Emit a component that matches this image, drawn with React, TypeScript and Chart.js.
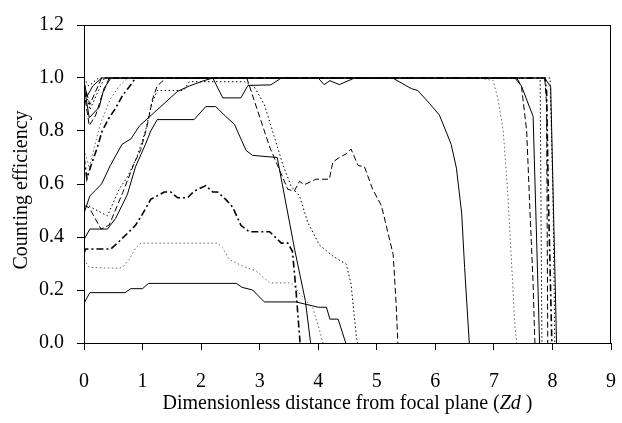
import React, { useEffect, useRef } from "react";
import { Chart, registerables } from "chart.js";
Chart.register(...registerables);

// ---- data (x = Zd, y = counting efficiency) ----
const aX = [0, 0.1, 0.7, 0.8, 1.0, 1.1, 2.6, 2.7, 2.88, 3.08, 3.62, 4.0, 4.14, 4.2, 4.34, 4.47];
const aY = [0.15, 0.19, 0.19, 0.205, 0.205, 0.225, 0.225, 0.21, 0.2, 0.155, 0.155, 0.135, 0.135, 0.09, 0.09, 0];

const bX = [0, 0.09, 0.6, 0.68, 0.77, 0.88, 0.97, 2.28, 2.37, 2.48, 2.71, 2.94, 3.17, 3.54, 3.68, 3.91, 4.02, 4.08];
const bY = [0.315, 0.285, 0.282, 0.29, 0.315, 0.358, 0.377, 0.377, 0.358, 0.315, 0.29, 0.272, 0.227, 0.227, 0.187, 0.131, 0.05, 0];

const cX = [0, 0.03, 0.46, 0.6, 0.77, 0.88, 1.0, 1.14, 1.37, 1.48, 1.6, 1.77, 1.88, 2.08, 2.2, 2.28, 2.42, 2.54, 2.68, 2.82, 3.17, 3.37, 3.48, 3.56, 3.62, 3.69];
const cY = [0.34, 0.355, 0.355, 0.383, 0.42, 0.444, 0.487, 0.542, 0.57, 0.57, 0.548, 0.548, 0.573, 0.594, 0.57, 0.57, 0.542, 0.512, 0.444, 0.42, 0.42, 0.377, 0.377, 0.346, 0.2, 0];

const dX = [0, 0.1, 0.4, 0.54, 0.74, 0.88, 1.05, 1.14, 1.25, 1.88, 2.08, 2.25, 2.42, 2.57, 2.68, 2.77, 2.88, 3.3, 3.6, 3.78, 3.87];
const dY = [0.39, 0.43, 0.43, 0.47, 0.56, 0.665, 0.75, 0.8, 0.843, 0.843, 0.892, 0.892, 0.855, 0.825, 0.77, 0.726, 0.708, 0.7, 0.35, 0.16, 0];

const eX = [0, 0.1, 0.3, 0.45, 0.65, 0.8, 0.95, 1.2, 1.4, 1.6, 1.8, 2.05, 2.2, 2.37, 2.68, 2.8, 3.19, 3.37, 4.0, 4.1, 4.2, 4.36, 4.62, 5.27, 5.59, 5.7, 5.9, 6.07, 6.27, 6.36, 6.45, 6.5, 6.58];
const eY = [0.49, 0.555, 0.6, 0.67, 0.75, 0.77, 0.82, 0.87, 0.91, 0.95, 0.97, 0.99, 1.0, 0.925, 0.925, 0.972, 0.974, 1.0, 1.0, 0.975, 0.99, 0.975, 1.0, 1.0, 0.96, 0.953, 0.904, 0.86, 0.75, 0.66, 0.49, 0.285, 0];

const hX = [0, 0.09, 0.29, 0.43, 0.66, 0.86, 0.97, 1.08, 1.17, 1.25, 1.4, 2.78, 3.17, 3.48, 3.59, 3.68, 3.76, 3.96, 4.19, 4.25, 4.36, 4.48, 4.56, 4.68, 4.79, 4.93, 5.08, 5.28, 5.33, 5.36];
const hY = [0.52, 0.51, 0.43, 0.445, 0.567, 0.68, 0.73, 0.82, 0.92, 0.97, 1.0, 1.0, 0.74, 0.58, 0.573, 0.61, 0.597, 0.618, 0.618, 0.683, 0.7, 0.714, 0.732, 0.67, 0.665, 0.58, 0.518, 0.334, 0.15, 0];

const iX = [0, 0.06, 0.31, 0.4, 0.6, 0.75, 0.9, 1.05, 1.15, 1.25, 1.7, 1.8, 2.74, 2.91, 3.08, 3.22, 3.39, 3.54, 3.68, 3.82, 4.02, 4.25, 4.48, 4.56, 4.65, 4.67];
const iY = [0.5, 0.52, 0.49, 0.48, 0.58, 0.63, 0.7, 0.8, 0.9, 0.953, 0.953, 0.986, 0.986, 0.966, 0.9, 0.8, 0.677, 0.59, 0.555, 0.456, 0.37, 0.328, 0.297, 0.223, 0.027, 0];

const fX = [0, 0.09, 0.26, 0.34, 0.46, 7.36, 7.47, 7.67, 7.78];
const fY = [0.97, 0.85, 0.89, 0.96, 1.0, 1.0, 0.97, 0.855, 0];

const gX = [0, 0.09, 0.2, 0.3, 0.43, 7.39, 7.47, 7.56, 7.61, 7.67, 7.7];
const gY = [0.95, 0.82, 0.86, 0.93, 1.0, 1.0, 0.97, 0.8, 0.53, 0.223, 0];

const kX = [0, 0.05, 0.09, 0.23, 0.31, 0.43, 0.54, 0.66, 0.77, 0.88, 7.87, 7.9, 7.93, 7.99];
const kY = [0.7, 0.62, 0.65, 0.74, 0.8, 0.85, 0.886, 0.935, 0.966, 1.0, 1.0, 0.95, 0.555, 0];

const lX = [0, 0.09, 0.2, 0.3, 0.45, 0.6, 0.75, 6.76, 6.99, 7.07, 7.16, 7.24, 7.3, 7.36, 7.39];
const lY = [0.73, 0.66, 0.76, 0.84, 0.92, 0.97, 1.0, 1.0, 0.99, 0.92, 0.8, 0.555, 0.31, 0.06, 0];

const sX = [0, 0.05, 0.15, 0.3, 7.87, 7.97, 8.07];
const sY = [0.99, 0.93, 0.97, 1.0, 1.0, 0.966, 0];

const tX = [0, 0.1, 0.2, 0.35, 7.79, 7.82];
const tY = [0.98, 0.88, 0.93, 1.0, 1.0, 0];

const uX = [0, 0.08, 0.25, 7.96, 8.01, 8.04];
const uY = [1.0, 0.97, 1.0, 1.0, 0.555, 0];

const vX = [0, 0.1, 0.3, 7.87, 7.9, 7.92];
const vY = [0.98, 0.9, 1.0, 1.0, 0.9, 0];

const xTicks = [0, 1, 2, 3, 4, 5, 6, 7, 8, 9];
const yTicks = [0, 0.2, 0.4, 0.6, 0.8, 1.0, 1.2];

const xTitleParts = ["Dimensionless distance from focal plane (", "Zd", " )"];
const yTitle = "Counting efficiency";

type Style = "solid" | "dash" | "dot" | "heavy";
const SOLID: number[] = [];
function pts(xs: number[], ys: number[]) {
  return xs.map((x, i) => ({ x, y: ys[i] }));
}
function ds(xs: number[], ys: number[], style: Style, color = "#000") {
  const dash =
    style === "dash" ? [6, 3] : style === "dot" ? [1.5, 2.5] : style === "heavy" ? [7, 3, 2, 3] : SOLID;
  return {
    data: pts(xs, ys),
    showLine: true,
    borderColor: color,
    borderWidth: style === "heavy" ? 1.6 : 1,
    borderDash: dash,
    pointRadius: 0,
    fill: false,
    tension: 0,
  };
}

const FONT = "'Liberation Serif', 'Times New Roman', serif";

const framePlugin = {
  id: "frame",
  afterDraw(chart: any) {
    const { ctx, chartArea } = chart;
    ctx.save();
    ctx.strokeStyle = "#000";
    ctx.lineWidth = 1;
    ctx.strokeRect(
      Math.round(chartArea.left) + 0.5,
      Math.round(chartArea.top) + 0.5,
      Math.round(chartArea.right - chartArea.left) - 1,
      Math.round(chartArea.bottom - chartArea.top)
    );
    // x-axis title with italic "Zd"
    const normal = `20px ${FONT}`;
    const italic = `italic 20px ${FONT}`;
    const fonts = [normal, italic, normal];
    const widths = xTitleParts.map((t, i) => {
      ctx.font = fonts[i];
      return ctx.measureText(t).width;
    });
    const total = widths.reduce((a, b) => a + b, 0);
    let x = (chartArea.left + chartArea.right) / 2 - total / 2;
    const y = chart.height - 19;
    ctx.fillStyle = "#000";
    ctx.textBaseline = "middle";
    ctx.textAlign = "left";
    xTitleParts.forEach((t, i) => {
      ctx.font = fonts[i];
      ctx.fillText(t, x, y);
      x += widths[i];
    });
    // y-axis title
    ctx.save();
    ctx.translate(22, (chartArea.top + chartArea.bottom) / 2 + 6);
    ctx.rotate(-Math.PI / 2);
    ctx.font = normal;
    ctx.textAlign = "center";
    ctx.textBaseline = "middle";
    ctx.fillText(yTitle, 0, 0);
    ctx.restore();
    ctx.restore();
  },
};

export default function App() {
  const ref = useRef<HTMLCanvasElement | null>(null);
  useEffect(() => {
    if (!ref.current) return;
    const chart = new Chart(ref.current, {
      type: "scatter",
      data: {
        datasets: [
          ds(aX, aY, "solid"),
          ds(bX, bY, "dot", "#666"),
          ds(cX, cY, "heavy"),
          ds(dX, dY, "solid"),
          ds(eX, eY, "solid"),
          ds(hX, hY, "dash"),
          ds(iX, iY, "dot"),
          ds(fX, fY, "solid"),
          ds(gX, gY, "dash"),
          ds(kX, kY, "heavy"),
          ds(lX, lY, "dot", "#666"),
          ds(sX, sY, "solid"),
          ds(tX, tY, "dot"),
          ds(uX, uY, "dot"),
          ds(vX, vY, "dash"),
        ] as any,
      },
      options: {
        animation: false,
        responsive: true,
        maintainAspectRatio: false,
        layout: { padding: { top: 16, right: 11, left: 0, bottom: 0 } },
        plugins: { legend: { display: false }, tooltip: { enabled: false } },
        scales: {
          x: {
            type: "linear",
            min: 0,
            max: 9,
            afterBuildTicks: (s: any) => {
              s.ticks = xTicks.map((v) => ({ value: v }));
            },
            afterFit: (s: any) => {
              s.height = 80;
              s.paddingLeft = 0;
              s.paddingRight = 0;
            },
            ticks: { color: "#000", font: { family: FONT, size: 20 }, padding: 20 },
            grid: { display: true, drawOnChartArea: false, drawTicks: true, tickLength: 7, color: "#000" },
            border: { display: true, color: "#000", width: 1 },
            title: { display: false },
          },
          y: {
            type: "linear",
            min: 0,
            max: 1.2,
            afterBuildTicks: (s: any) => {
              s.ticks = yTicks.map((v) => ({ value: v }));
            },
            afterFit: (s: any) => {
              s.width = 84;
            },
            ticks: {
              color: "#000",
              font: { family: FONT, size: 20 },
              padding: 13,
              callback: (v: any) => Number(v).toFixed(1),
            },
            grid: { display: true, drawOnChartArea: false, drawTicks: true, tickLength: 7, color: "#000" },
            border: { display: true, color: "#000", width: 1 },
            title: { display: false },
          },
        },
      } as any,
      plugins: [framePlugin],
    });
    return () => chart.destroy();
  }, []);
  return (
    <div style={{ position: "fixed", left: 0, top: 0, width: 622, height: 423, background: "#fff" }}>
      <canvas ref={ref} />
    </div>
  );
}
